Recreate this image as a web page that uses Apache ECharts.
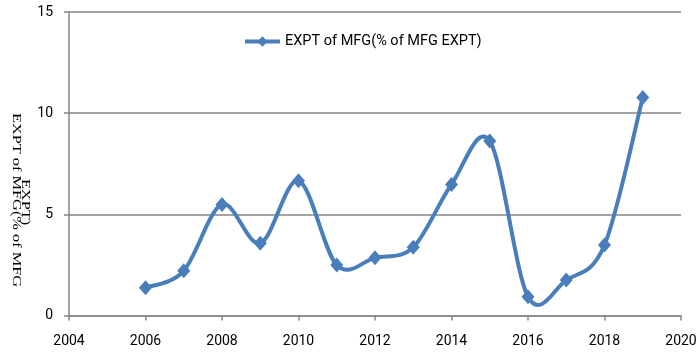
<!DOCTYPE html>
<html>
<head>
<meta charset="utf-8">
<script src="https://cdn.jsdelivr.net/npm/echarts@6/dist/echarts.min.js"></script>
<style>html,body{margin:0;padding:0;background:#fff}#c{width:700px;height:356px}</style>
</head>
<body>
<div id="c"></div>
<script>
var years = [2006, 2007, 2008, 2009, 2010, 2011, 2012, 2013, 2014, 2015, 2016, 2017, 2018, 2019];
var values = [1.37, 2.21, 5.49, 3.57, 6.66, 2.49, 2.85, 3.37, 6.48, 8.62, 0.93, 1.75, 3.48, 10.78];
var seriesName = 'EXPT of MFG(% of MFG EXPT)';
var yNameLines = ['EXPT of MFG(% of MFG', 'EXPT)'];

var labelFont = 'Roboto, sans-serif';
var gray = '#868686';
var blue = '#4A7EBB';

function smoothPath(api) {
  var pts = years.map(function (y, i) { return api.coord([y, values[i]]); });
  var n = pts.length;
  var d = 'M' + pts[0][0] + ',' + pts[0][1];
  for (var i = 0; i < n - 1; i++) {
    var p0 = pts[i - 1 < 0 ? 0 : i - 1];
    var p1 = pts[i];
    var p2 = pts[i + 1];
    var p3 = pts[i + 2 > n - 1 ? n - 1 : i + 2];
    var c1x = p1[0] + (p2[0] - p0[0]) / 6;
    var c1y = p1[1] + (p2[1] - p0[1]) / 6;
    var c2x = p2[0] - (p3[0] - p1[0]) / 6;
    var c2y = p2[1] - (p3[1] - p1[1]) / 6;
    d += ' C' + c1x + ',' + c1y + ' ' + c2x + ',' + c2y + ' ' + p2[0] + ',' + p2[1];
  }
  return d;
}

var points = years.map(function (y, i) { return [y, values[i]]; });

function nameText(txt, cx, cy) {
  return {
    type: 'group', x: cx, y: cy, rotation: -Math.PI / 2,
    children: [{
      type: 'text', x: 0, y: 0, scaleX: 1.36, scaleY: 1,
      style: {text: txt, font: '12px "Liberation Serif", "Times New Roman", serif', fill: '#000', align: 'center', verticalAlign: 'middle'}
    }]
  };
}

var chart = echarts.init(document.getElementById('c'), null, {renderer: 'canvas'});
chart.setOption({
  animation: false,
  grid: {left: 69, right: 19, top: 12, bottom: 40.5, containLabel: false},
  legend: {
    left: 243, top: 34, padding: 0,
    itemWidth: 35, itemHeight: 13, itemGap: 5,
    textStyle: {fontFamily: labelFont, fontSize: 14.5, color: '#000'},
    lineStyle: {color: blue, width: 4, opacity: 1},
    data: [seriesName]
  },
  xAxis: {
    type: 'value', min: 2004, max: 2020, interval: 2,
    splitLine: {show: false},
    axisLine: {show: true, lineStyle: {color: gray, width: 1.5}},
    axisTick: {show: true, inside: false, length: 5, lineStyle: {color: gray, width: 1.5}},
    axisLabel: {formatter: function (v) { return String(v); }, fontFamily: labelFont, fontSize: 14, color: '#000', margin: 19}
  },
  yAxis: {
    type: 'value', min: 0, max: 15, interval: 5,
    splitLine: {show: true, lineStyle: {color: gray, width: 1.5}},
    axisLine: {show: true, lineStyle: {color: gray, width: 1.5}},
    axisTick: {show: true, inside: false, length: 5, lineStyle: {color: gray, width: 1.5}},
    axisLabel: {fontFamily: labelFont, fontSize: 14, color: '#000', margin: 16}
  },
  graphic: [
    nameText(yNameLines[0], 16, 200),
    nameText(yNameLines[1], 25.5, 202)
  ],
  series: [{
    name: 'curve',
    type: 'custom',
    z: 1,
    silent: true,
    data: points,
    encode: {x: 0, y: 1},
    renderItem: function (params, api) {
      if (params.dataIndex !== 0) return null;
      return {
        type: 'path',
        shape: {pathData: smoothPath(api)},
        style: {stroke: blue, lineWidth: 4, fill: null, lineJoin: 'round', lineCap: 'round'}
      };
    }
  }, {
    name: seriesName,
    type: 'line',
    z: 3,
    data: points,
    smooth: false,
    symbol: 'diamond',
    symbolSize: [13, 15],
    lineStyle: {color: blue, width: 4, opacity: 0},
    itemStyle: {color: blue}
  }]
});
</script>
</body>
</html>
